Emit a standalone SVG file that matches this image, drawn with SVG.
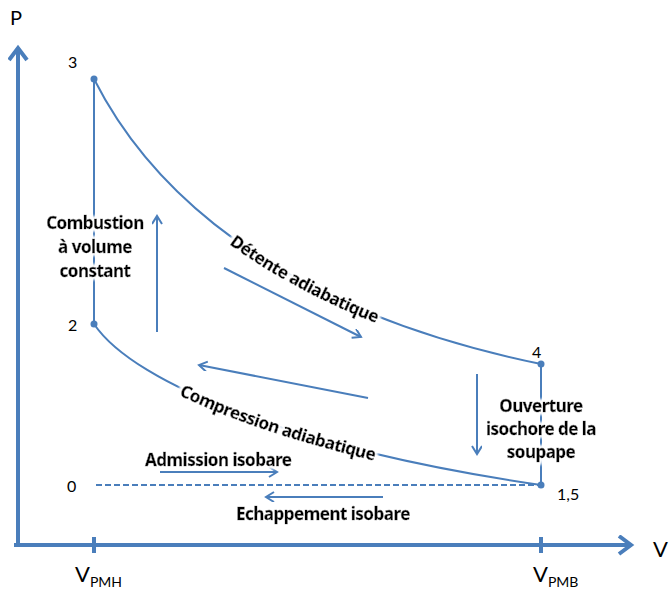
<svg xmlns="http://www.w3.org/2000/svg" xmlns:xlink="http://www.w3.org/1999/xlink" width="669" height="592" viewBox="0 0 669 592">
<style>
.ax{stroke:#4A7EBB;stroke-width:4;fill:none}
.ln{stroke:#4A7EBB;stroke-width:2;fill:none}
.ar{stroke:#4A7EBB;stroke-width:2;fill:none;marker-end:url(#ah)}
.num{font-family:Lato,"Liberation Sans",sans-serif;font-size:16px;fill:#000}
.lab{font-family:"Noto Sans","Liberation Sans",sans-serif;font-size:17px;font-weight:bold;fill:#000;stroke:#000;stroke-width:0.4px;letter-spacing:-0.5px;filter:url(#glow)}
.dot{fill:#4A7EBB}
</style>
<defs>
<marker id="ah" markerWidth="12" markerHeight="12" refX="9" refY="5" orient="auto" markerUnits="userSpaceOnUse">
<path d="M1,0 L9,5 L1,10" fill="none" stroke="#4A7EBB" stroke-width="2"/>
</marker>
<marker id="axh" markerWidth="24" markerHeight="24" refX="14" refY="10" orient="auto" markerUnits="userSpaceOnUse">
<path d="M2,1 L14,10 L2,19" fill="none" stroke="#4A7EBB" stroke-width="4"/>
</marker>
<filter id="glow" x="-10%" y="-30%" width="120%" height="160%">
<feMorphology in="SourceAlpha" operator="dilate" radius="2" result="d"/>
<feGaussianBlur in="d" stdDeviation="1.5" result="b"/>
<feFlood flood-color="#ffffff"/>
<feComposite in2="b" operator="in" result="w"/>
<feMerge><feMergeNode in="w"/><feMergeNode in="w"/><feMergeNode in="SourceGraphic"/></feMerge>
</filter>
<path id="c34" d="M94,79 C130,150 230,300 541,364"/>
<path id="c25" d="M94,324 C135,385 300,450 541,485"/>
</defs>
<g id="axes">
<line class="ax" x1="18" y1="545" x2="18" y2="48" marker-end="url(#axh)"/>
<line class="ax" x1="14" y1="545" x2="631" y2="545" marker-end="url(#axh)"/>
<line class="ax" x1="94" y1="537" x2="94" y2="553"/>
<line class="ax" x1="541" y1="537" x2="541" y2="553"/>
<text x="10" y="25" font-family="Lato,'Liberation Sans',sans-serif" font-size="20">P</text>
<text x="653" y="557" font-family="Lato,'Liberation Sans',sans-serif" font-size="22">V</text>
<text x="75" y="582" font-family="Lato,'Liberation Sans',sans-serif" font-size="22">V<tspan font-size="14" dy="5">PMH</tspan></text>
<text x="533" y="582" font-family="Lato,'Liberation Sans',sans-serif" font-size="22">V<tspan font-size="14" dy="5">PMB</tspan></text>
</g>
<g id="connectors">
<line class="ln" x1="94" y1="79" x2="94" y2="324"/>
<line class="ln" x1="541" y1="364" x2="541" y2="485"/>
<use href="#c34" class="ln"/>
<use href="#c25" class="ln"/>
<line class="ln" x1="96" y1="485" x2="541" y2="485" stroke-dasharray="6,3"/>
<line class="ar" x1="157" y1="332" x2="157" y2="216"/>
<line class="ar" x1="224" y1="268" x2="361" y2="337"/>
<line class="ar" x1="368" y1="398" x2="199" y2="365"/>
<line class="ar" x1="477" y1="374" x2="477" y2="454"/>
<line class="ar" x1="160" y1="472" x2="277" y2="472"/>
<line class="ar" x1="383" y1="497" x2="266" y2="497"/>
</g>
<g id="p3"><circle class="dot" cx="94" cy="79" r="3.5"/><text class="num" x="68" y="68">3</text></g>
<g id="p2"><circle class="dot" cx="94" cy="324" r="3.5"/><text class="num" x="68" y="331">2</text></g>
<g id="p4"><circle class="dot" cx="541" cy="364" r="3.5"/><text class="num" x="532" y="358">4</text></g>
<g id="p15"><circle class="dot" cx="541" cy="485" r="3.5"/><text class="num" x="557" y="500">1,5</text></g>
<g id="p0"><text class="num" x="67" y="492">0</text></g>
<g id="combustion"><text class="lab" text-anchor="middle"><tspan x="95" y="229">Combustion</tspan><tspan x="95" y="253">à volume</tspan><tspan x="95" y="277">constant</tspan></text></g>
<g id="detente"><text class="lab" dominant-baseline="central"><textPath href="#c34" startOffset="54%" text-anchor="middle">Détente adiabatique</textPath></text></g>
<g id="compression"><text class="lab" dominant-baseline="central"><textPath href="#c25" startOffset="44%" text-anchor="middle">Compression adiabatique</textPath></text></g>
<g id="ouverture"><text class="lab" text-anchor="middle"><tspan x="541" y="412">Ouverture</tspan><tspan x="541" y="435">isochore de la</tspan><tspan x="541" y="458">soupape</tspan></text></g>
<g id="admission"><text class="lab" x="145" y="466">Admission isobare</text></g>
<g id="echappement"><text class="lab" x="236" y="520">Echappement isobare</text></g>
</svg>
